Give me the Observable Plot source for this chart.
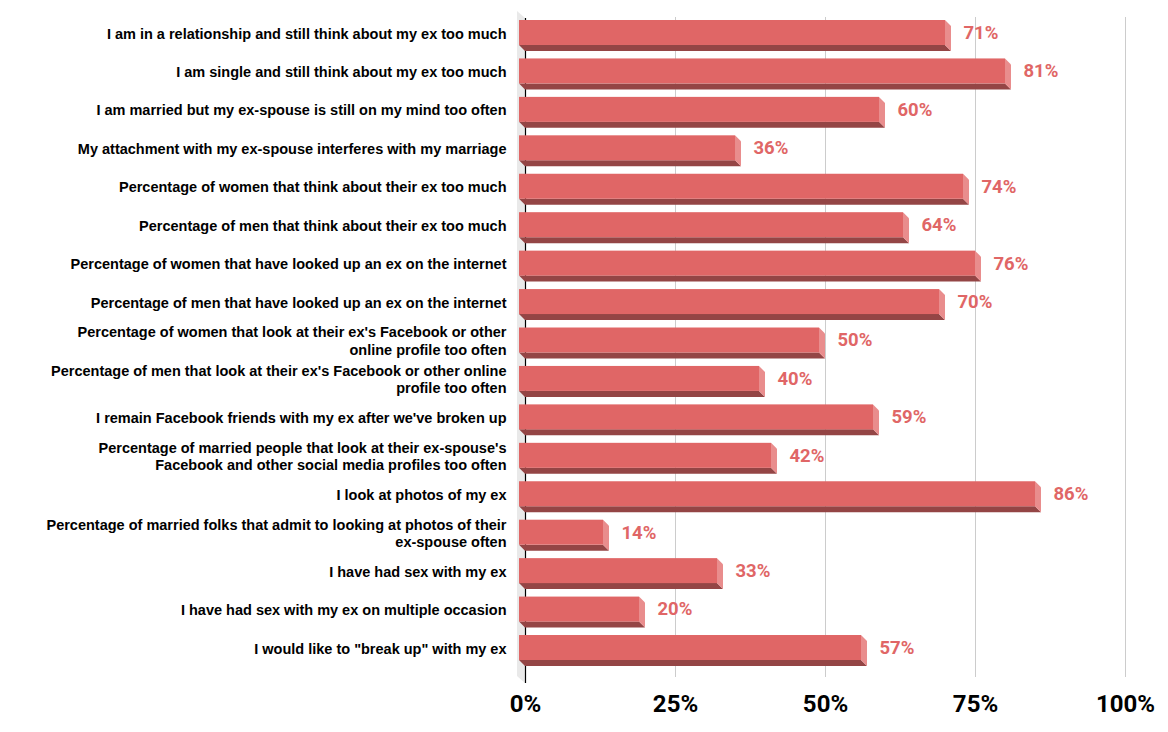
<!DOCTYPE html>
<html>
<head>
<meta charset="utf-8">
<script src="https://cdn.jsdelivr.net/npm/d3@7"></script>
<script src="https://cdn.jsdelivr.net/npm/@observablehq/plot@0.6"></script>
<style>
  html, body { margin: 0; padding: 0; background: #fff; }
  #chart svg { display: block; }
</style>
</head>
<body>
<div id="chart"></div>
<script>
const categories = [
  "I am in a relationship and still think about my ex too much",
  "I am single and still think about my ex too much",
  "I am married but my ex-spouse is still on my mind too often",
  "My attachment with my ex-spouse interferes with my marriage",
  "Percentage of women that think about their ex too much",
  "Percentage of men that think about their ex too much",
  "Percentage of women that have looked up an ex on the internet",
  "Percentage of men that have looked up an ex on the internet",
  "Percentage of women that look at their ex's Facebook or other\nonline profile too often",
  "Percentage of men that look at their ex's Facebook or other online\nprofile too often",
  "I remain Facebook friends with my ex after we've broken up",
  "Percentage of married people that look at their ex-spouse's\nFacebook and other social media profiles too often",
  "I look at photos of my ex",
  "Percentage of married folks that admit to looking at photos of their\nex-spouse often",
  "I have had sex with my ex",
  "I have had sex with my ex on multiple occasion",
  "I would like to \"break up\" with my ex"
];
const values = [71, 81, 60, 36, 74, 64, 76, 70, 50, 40, 59, 42, 86, 14, 33, 20, 57];
const xTicks = [0, 25, 50, 75, 100];

const data = categories.map((c, i) => ({category: c, value: values[i]}));

const FRONT = "#e06666";
const SIDE = "#e98d8d";
const BOTTOM = "#944545";
const DEPTH = 6;

// back wall along the 0 axis
function wall(index, scales, channels, dimensions) {
  const x0 = scales.x(0);
  const g = d3.create("svg:g");
  g.append("path")
    .attr("d", `M${x0 - 8},11 L${x0},18 L${x0},683 L${x0 - 8},676 Z`)
    .attr("fill", "#e9e9e9");
  return g.node();
}

// 3D side and bottom faces of each bar
function faces(index, scales, channels, dimensions) {
  const g = d3.create("svg:g");
  const bw = scales.y.bandwidth ? scales.y.bandwidth() : 25;
  const x0 = scales.x(0) - DEPTH;
  for (const d of data) {
    const x1 = scales.x(d.value) - DEPTH;
    const yt = scales.y(d.category);
    const yb = yt + bw;
    g.append("path")
      .attr("d", `M${x0},${yb} L${x1},${yb} L${x1 + DEPTH},${yb + DEPTH} L${x0 + DEPTH},${yb + DEPTH} Z`)
      .attr("fill", BOTTOM);
    g.append("path")
      .attr("d", `M${x1},${yt} L${x1 + DEPTH},${yt + DEPTH} L${x1 + DEPTH},${yb + DEPTH} L${x1},${yb} Z`)
      .attr("fill", SIDE);
  }
  return g.node();
}

const chart = Plot.plot({
  width: 1168,
  height: 732,
  marginLeft: 525,
  marginRight: 43,
  marginTop: 20,
  marginBottom: 72,
  style: {fontFamily: "Roboto, sans-serif", background: "#fff"},
  x: {domain: [0, 100], range: [525, 1125], axis: null},
  y: {domain: categories, range: [20, 660], paddingInner: 0.35, paddingOuter: 0, round: false, axis: null},
  marks: [
    wall,
    Plot.ruleX(xTicks.filter(d => d > 0), {stroke: "#cccccc", strokeWidth: 1, insetTop: -3, insetBottom: -17}),
    Plot.ruleX([0], {stroke: "#000", strokeWidth: 1.2, insetTop: -2, insetBottom: -23}),
    faces,
    Plot.barX(data, {x: "value", y: "category", fill: FRONT, dx: -DEPTH}),
    Plot.text(data, {
      x: 0, y: "category", text: "category", textAnchor: "end", dx: -19, dy: 0,
      fontFamily: "'Liberation Sans', Arial, sans-serif", fontWeight: "bold", fontSize: 14.5,
      lineHeight: 1.2, fill: "#000"
    }),
    Plot.text(data, {
      x: "value", y: "category", text: d => d.value + "%", textAnchor: "start", dx: 12, dy: 0,
      fontFamily: "Roboto, sans-serif", fontWeight: "bold", fontSize: 18.5, fill: FRONT
    }),
    Plot.axisX(xTicks, {
      tickSize: 0, tickPadding: 34, tickFormat: d => d + "%", label: null,
      fontSize: 24, fontWeight: "bold", fontFamily: "Roboto, sans-serif", fill: "#000"
    })
  ]
});
document.getElementById("chart").appendChild(chart);
</script>
</body>
</html>
